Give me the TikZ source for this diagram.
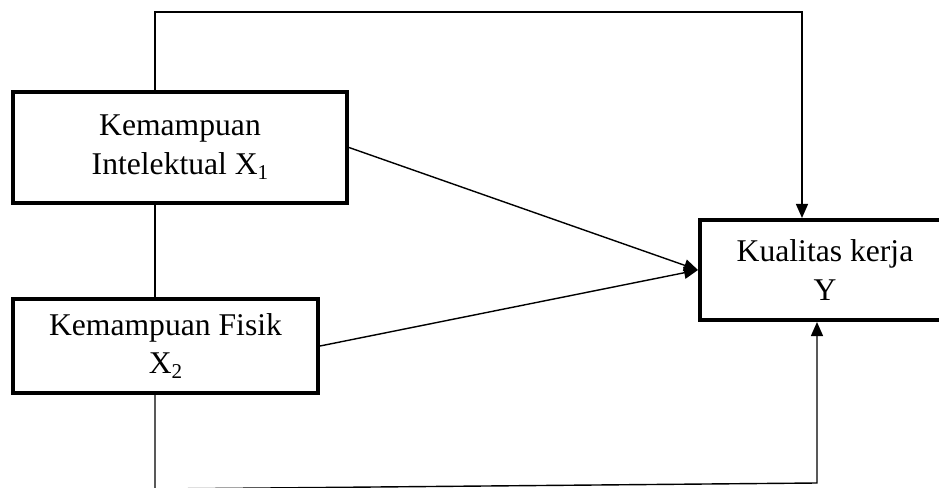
\documentclass[tikz,border=0pt]{standalone}
\usepackage{fontspec}
\setmainfont{Liberation Serif}
\usetikzlibrary{arrows.meta}
\newcommand{\subidx}[1]{\raisebox{-0.35ex}{\fontsize{12}{12}\selectfont #1}}
\begin{document}
\begin{tikzpicture}[
        varbox/.style = {draw, line width=2.3pt, align=center, inner sep=0pt,
            font=\fontsize{18}{22}\selectfont},
        link/.style = {line width=0.8pt},
        arr/.style = {link, -{Triangle[length=0.28cm, width=0.24cm]}}]
        \useasboundingbox (0,0) rectangle (18.78,-9.76);
        \node[varbox, minimum width=6.68cm, minimum height=2.22cm] (xa) at (3.6,-2.95) {Kemampuan\\Intelektual X\subidx{1}};
        \node[varbox, minimum width=6.1cm, minimum height=1.88cm] (xb) at (3.31,-6.92) {Kemampuan Fisik\\X\subidx{2}};
        \node[varbox, minimum width=5.0cm, minimum height=2.0cm] (y) at (16.5,-5.4) {Kualitas kerja\\Y};
        \coordinate (topl) at (3.1,-0.24);
        \coordinate (topr) at (16.04,-0.24);
        \coordinate (botl) at (3.1,-9.78);
        \coordinate (botr) at (16.34,-9.66);
        \draw[arr] (xa.north -| topl) -- (topl) -- (topr) -- (y.north -| topr);
        \draw[link] (xa.south -| topl) -- (xb.north -| topl);
        \draw[arr] (xb.south -| topl) -- (botl) -- (botr) -- (y.south -| botr);
        \draw[arr] (xa.east) -- (y.west);
        \draw[arr] (xb.east) -- (y.west);
    \end{tikzpicture}
\end{document}
